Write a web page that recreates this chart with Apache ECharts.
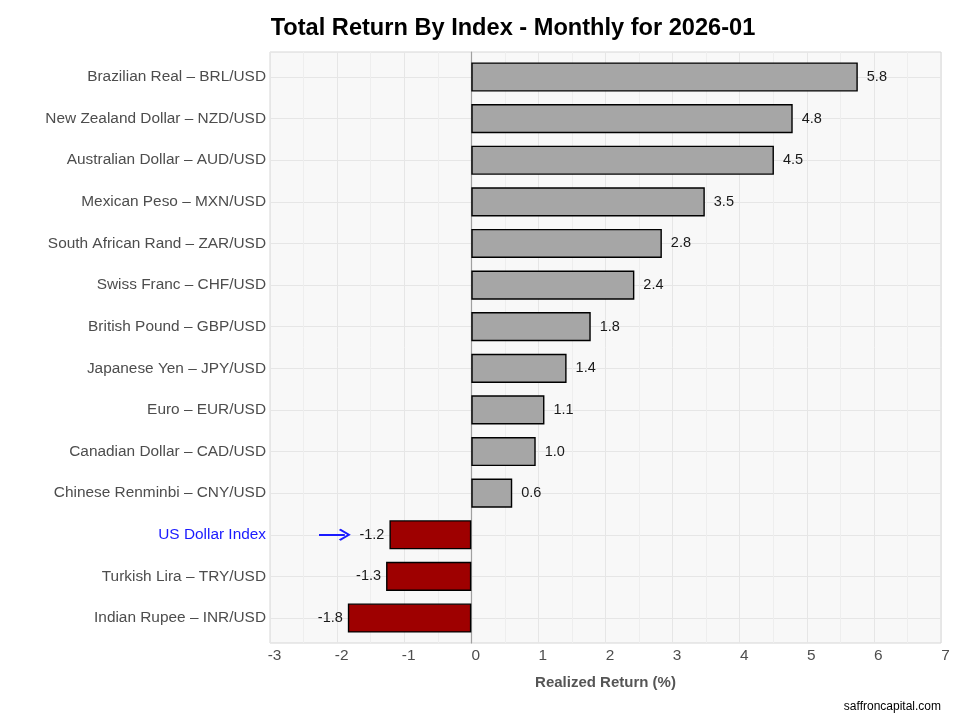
<!DOCTYPE html>
<html>
<head>
<meta charset="utf-8">
<script src="https://cdn.jsdelivr.net/npm/echarts@6/dist/echarts.min.js"></script>
<style>html,body{margin:0;padding:0;background:#fff;}#c{width:960px;height:720px;}</style>
</head>
<body>
<div id="c"></div>
<script>
var categories = [
  "Brazilian Real \u2013 BRL/USD",
  "New Zealand Dollar \u2013 NZD/USD",
  "Australian Dollar \u2013 AUD/USD",
  "Mexican Peso \u2013 MXN/USD",
  "South African Rand \u2013 ZAR/USD",
  "Swiss Franc \u2013 CHF/USD",
  "British Pound \u2013 GBP/USD",
  "Japanese Yen \u2013 JPY/USD",
  "Euro \u2013 EUR/USD",
  "Canadian Dollar \u2013 CAD/USD",
  "Chinese Renminbi \u2013 CNY/USD",
  "US Dollar Index",
  "Turkish Lira \u2013 TRY/USD",
  "Indian Rupee \u2013 INR/USD"
];
var returns = [5.76, 4.79, 4.51, 3.48, 2.84, 2.43, 1.78, 1.42, 1.09, 0.96, 0.61, -1.22, -1.27, -1.84];
var xTicks = [-3, -2, -1, 0, 1, 2, 3, 4, 5, 6, 7];
var highlight = "US Dollar Index";
var arrowX = [-2.27, -1.885];

var FONT = "Liberation Sans, Arial, sans-serif";
var chart = echarts.init(document.getElementById('c'), null, {renderer: 'canvas'});

var barData = returns.map(function (v) {
  return {
    value: v,
    itemStyle: {color: v >= 0 ? '#a6a6a6' : '#9e0000'},
    label: {position: v >= 0 ? 'right' : 'left', distance: v >= 0 ? 9 : 5}
  };
});

var option = {
  backgroundColor: '#ffffff',
  animation: false,
  title: {
    text: 'Total Return By Index - Monthly for 2026-01',
    left: 508, top: 11, textAlign: 'center',
    textStyle: {fontFamily: FONT, fontWeight: 'bold', fontSize: 23.6, color: '#000'}
  },
  graphic: [{
    type: 'text', right: 19, top: 701,
    style: {text: 'saffroncapital.com', fontFamily: FONT, fontSize: 12, fill: '#000'}
  }],
  grid: [
    {left: 270, right: 19, top: 52, bottom: 77, show: true, backgroundColor: '#f8f8f8', borderColor: '#d6d6d6', borderWidth: 1},
    {left: 270, right: 19, top: 76.97, bottom: 101.97}
  ],
  xAxis: [
    {
      gridIndex: 0, type: 'value', min: xTicks[0], max: xTicks[xTicks.length - 1], interval: 1,
      name: 'Realized Return (%)', nameLocation: 'middle', nameGap: 32,
      nameTextStyle: {fontFamily: FONT, fontWeight: 'bold', fontSize: 15, color: '#555'},
      axisLine: {show: false}, axisTick: {show: false},
      axisLabel: {fontFamily: FONT, fontSize: 15.4, color: '#4d4d4d', margin: 5, padding: [0, 0, 0, 9]},
      splitLine: {show: true, lineStyle: {color: '#e6e6e6', width: 1}},
      minorTick: {show: false, splitNumber: 2},
      minorSplitLine: {show: true, lineStyle: {color: '#eeeeee', width: 1}}
    },
    {
      gridIndex: 1, type: 'value', min: xTicks[0], max: xTicks[xTicks.length - 1], interval: 1,
      show: false, splitLine: {show: false}
    }
  ],
  yAxis: [
    {
      gridIndex: 0, type: 'value', min: 0, max: 1,
      axisLabel: {show: false}, axisTick: {show: false}, splitLine: {show: false},
      axisLine: {show: true, onZero: true, lineStyle: {color: '#a0a0a0', width: 1.2}}
    },
    {
      gridIndex: 1, type: 'category', data: categories, inverse: true, boundaryGap: false,
      axisLine: {show: false}, axisTick: {show: false},
      axisLabel: {
        fontFamily: FONT, fontSize: 15.4, margin: 4, interval: 0,
        color: function (v) { return v === highlight ? '#1a1aff' : '#4d4d4d'; }
      },
      splitLine: {show: true, interval: 0, lineStyle: {color: '#e6e6e6', width: 1}}
    }
  ],
  series: [{
    type: 'bar', xAxisIndex: 1, yAxisIndex: 1, data: barData,
    barWidth: '70%', clip: false,
    itemStyle: {borderColor: '#000', borderWidth: 1.4},
    label: {
      show: true, fontFamily: FONT, fontSize: 14.5, color: '#1a1a1a',
      formatter: function (p) { return p.value.toFixed(1); }
    },
    markLine: {
      silent: true, animation: false,
      symbol: ['none', 'path://M-1,0 L0,-1.1 L1,0 L0.8,0.2 L0,-0.7 L-0.8,0.2 Z'],
      symbolSize: [12, 12],
      lineStyle: {color: '#1a1aff', width: 2, type: 'solid'},
      label: {show: false},
      data: [[{coord: [arrowX[0], highlight]}, {coord: [arrowX[1], highlight]}]]
    }
  }]
};
chart.setOption(option);
</script>
</body>
</html>
